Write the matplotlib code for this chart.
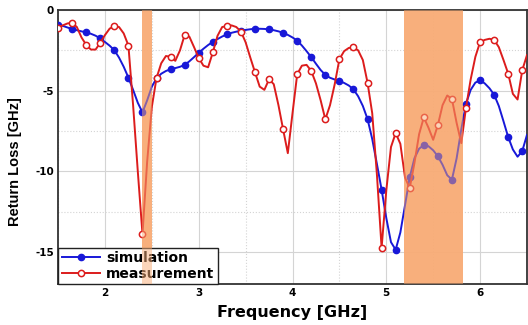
import matplotlib
matplotlib.use("Agg")
import matplotlib.pyplot as plt
from matplotlib.ticker import MultipleLocator

plt.rcParams["font.family"] = ["DejaVu Sans"]
plt.rcParams["axes.unicode_minus"] = False

# frequency grid of both traces (GHz), markers on every third sample
freq = [1.50 + 0.05 * i for i in range(101)]

sim_rl = [
    -0.90, -0.98, -1.08, -1.18, -1.25, -1.32, -1.39, -1.47, -1.59, -1.76,
    -1.98, -2.21, -2.49, -2.95, -3.52, -4.19, -4.95, -5.75, -6.35, -5.60,
    -4.75, -4.23, -3.95, -3.78, -3.67, -3.60, -3.52, -3.40, -3.18, -2.92,
    -2.65, -2.40, -2.17, -1.97, -1.80, -1.64, -1.51, -1.41, -1.34, -1.29,
    -1.23, -1.19, -1.16, -1.16, -1.17, -1.20, -1.25, -1.32, -1.41, -1.54,
    -1.70, -1.89, -2.20, -2.55, -2.92, -3.33, -3.72, -4.02, -4.20, -4.31,
    -4.40, -4.52, -4.68, -4.92, -5.35, -5.95, -6.76, -8.00, -9.55, -11.14,
    -12.90, -14.40, -14.87, -13.80, -12.10, -10.37, -9.20, -8.60, -8.38, -8.45,
    -8.70, -9.07, -9.60, -10.25, -10.52, -9.20, -7.40, -5.81, -4.95, -4.50,
    -4.36, -4.55, -4.85, -5.25, -5.95, -6.90, -7.88, -8.65, -9.10, -8.75,
    -7.75,
]

meas_rl = [
    -1.10, -0.95, -0.83, -0.79, -1.05, -1.70, -2.16, -2.45, -2.45, -2.03,
    -1.55, -1.15, -1.00, -1.05, -1.45, -2.20, -5.90, -10.00, -13.90, -9.40,
    -6.00, -4.21, -3.30, -2.85, -2.90, -3.15, -2.50, -1.54, -1.65, -2.30,
    -2.97, -3.45, -3.55, -2.63, -1.60, -1.05, -1.00, -0.95, -1.05, -1.33,
    -2.00, -2.95, -3.86, -4.75, -4.95, -4.29, -4.60, -5.90, -7.41, -8.88,
    -6.40, -3.98, -3.45, -3.40, -3.78, -4.55, -5.60, -6.78, -5.90, -4.60,
    -3.05, -2.55, -2.35, -2.32, -2.50, -3.10, -4.50, -6.40, -10.20, -14.75,
    -11.20, -8.50, -7.63, -8.30, -10.40, -11.04, -9.50, -7.70, -6.66, -7.30,
    -8.05, -7.14, -5.90, -5.30, -5.52, -7.00, -8.26, -6.06, -4.30, -2.90,
    -1.99, -1.85, -1.78, -1.85, -2.30, -3.10, -3.94, -5.20, -5.55, -3.73,
    -2.80,
]

# WLAN bands (GHz)
bands = [(2.40, 2.50), (5.19, 5.82)]

band_color = "#f8ac76"

fig = plt.figure(figsize=(5.28, 3.25), dpi=100)
ax = fig.add_axes([0.110, 0.126, 0.888, 0.843])

ax.plot(freq, sim_rl, color="#1818d8", linewidth=1.4, marker="o",
        markersize=4.5, markevery=3, markerfacecolor="#1818d8",
        markeredgecolor="#1818d8", label="simulation", zorder=3)
ax.plot(freq, meas_rl, color="#dc1c1c", linewidth=1.4, marker="o",
        markersize=4.5, markevery=3, markerfacecolor="white",
        markeredgecolor="#dc1c1c", markeredgewidth=1.1,
        label="measurement", zorder=3)

# shading: solid under the traces, translucent on top to tint them
for lo, hi in bands:
    ax.axvspan(lo, hi, color=band_color, alpha=0.9, linewidth=0, zorder=1)
    ax.axvspan(lo, hi, color=band_color, alpha=0.5, linewidth=0, zorder=6)

ax.set_xlim(1.5, 6.5)
ax.set_ylim(-17, 0)
ax.xaxis.set_major_locator(MultipleLocator(1))
ax.xaxis.set_minor_locator(MultipleLocator(0.5))
ax.yaxis.set_major_locator(MultipleLocator(5))
ax.yaxis.set_minor_locator(MultipleLocator(2.5))
ax.grid(which="major", color="#d4d4d4", linewidth=0.8)
ax.grid(which="minor", color="#d4d4d4", linewidth=0.8, linestyle=":")
ax.set_axisbelow(True)
ax.tick_params(which="both", length=0, labelsize=7.5, pad=3)
for lbl in ax.get_xticklabels() + ax.get_yticklabels():
    lbl.set_fontweight("bold")
for spine in ax.spines.values():
    spine.set_edgecolor("#333333")
    spine.set_linewidth(1.3)

ax.set_xlabel("Frequency [GHz]", fontsize=11.5, fontweight="bold", labelpad=5)
ax.set_ylabel("Return Loss [GHz]", fontsize=10.5, fontweight="bold",
              family="Liberation Sans")
ax.yaxis.set_label_coords(-0.078, 0.447)

leg = ax.legend(loc="lower left", borderaxespad=0, fancybox=False,
                edgecolor="#222222", framealpha=1, handlelength=2.8,
                prop={"weight": "bold", "size": 10}, labelspacing=0.1,
                borderpad=0.25, handletextpad=0.4)
leg.get_frame().set_linewidth(1.0)
leg.set_zorder(5)

fig.savefig("out.png", dpi=100)
